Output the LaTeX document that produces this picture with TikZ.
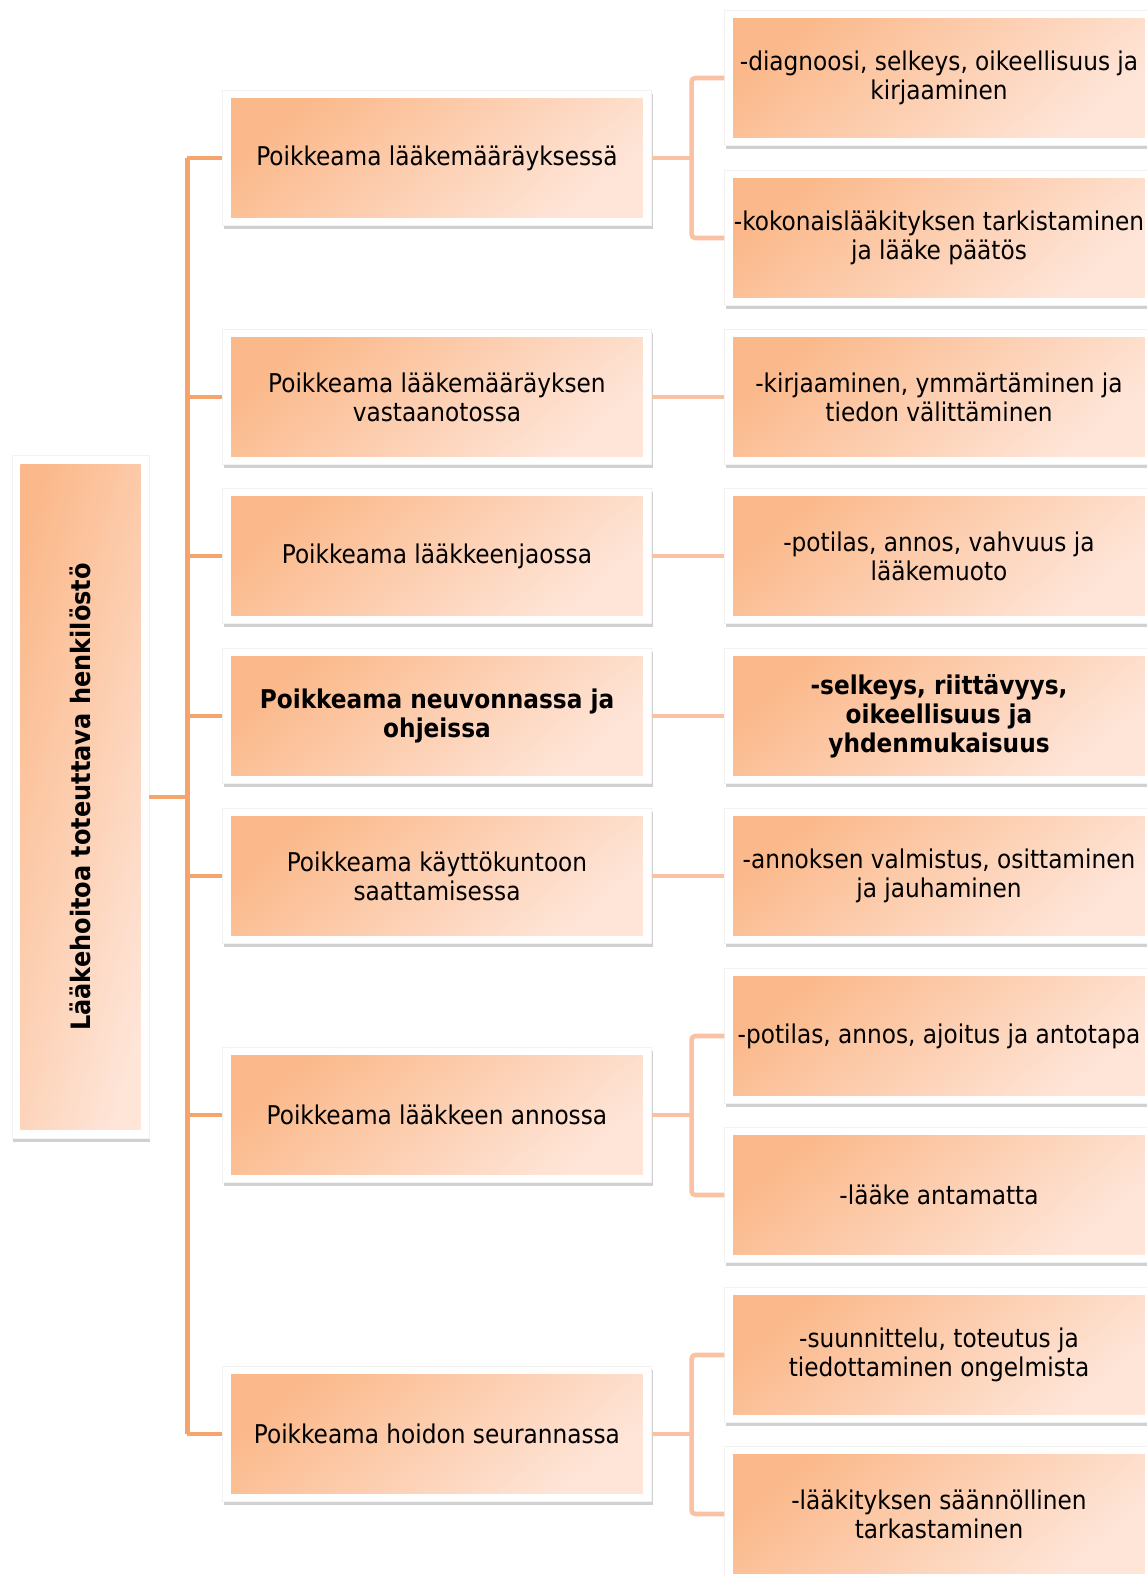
\documentclass[tikz,border=0pt]{standalone}
\usepackage{fontspec}
\setmainfont{DejaVu Sans Condensed}
\usepackage{graphicx}
\usepackage{tikz}
\usetikzlibrary{positioning, fit, backgrounds, shadows}
\definecolor{persikka}{HTML}{FBB98B}
\definecolor{persikkavaalea}{HTML}{FEE5D8}
\definecolor{runko}{HTML}{F5A46C}
\definecolor{haara}{HTML}{F9C2A3}

\begin{document}
\begin{tikzpicture}[
    x=0.02cm, y=-0.02cm,
    every node/.style={font=\fontsize{14.7}{16.5}\selectfont},
    laatikko/.style={shade, top color=persikka, bottom color=persikkavaalea,
        shading angle=40, minimum width=8.24cm, minimum height=2.37cm,
        align=center, inner sep=0pt},
    kehys/.style={fill=white, draw=gray!10, inner sep=0.16cm,
        drop shadow={shadow xshift=0.8pt, shadow yshift=-2pt,
            opacity=0.18, fill=black}},
    runkoviiva/.style={draw=runko, line width=2.6pt},
    haaraviiva/.style={draw=haara, line width=2.6pt, rounded corners=2pt}
]
\useasboundingbox (0,0) rectangle (1146,1575);

% juuri
\node[laatikko, shading angle=75, minimum width=2.41cm, minimum height=13.32cm]
    (juuri) at (80.5,797)
    {\rotatebox{90}{\fontsize{15.2}{17}\selectfont\bfseries Lääkehoitoa toteuttava henkilöstö}};

% poikkeamat
\node[laatikko] (v1) at (437,158) {Poikkeama lääkemääräyksessä};
\node[laatikko] (v2) at (437,397) {Poikkeama lääkemääräyksen\\vastaanotossa};
\node[laatikko] (v3) at (437,556) {Poikkeama lääkkeenjaossa};
\node[laatikko] (v4) at (437,716) {\bfseries Poikkeama neuvonnassa ja\\\bfseries ohjeissa};
\node[laatikko] (v5) at (437,876) {Poikkeama käyttökuntoon\\saattamisessa};
\node[laatikko] (v6) at (437,1115) {Poikkeama lääkkeen annossa};
\node[laatikko] (v7) at (437,1434) {Poikkeama hoidon seurannassa};

% osatekijät
\node[laatikko] (o1) at (939,78) {-diagnoosi, selkeys, oikeellisuus ja\\kirjaaminen};
\node[laatikko] (o2) at (939,238) {-kokonaislääkityksen tarkistaminen\\ja lääke päätös};
\node[laatikko] (o3) at (939,397) {-kirjaaminen, ymmärtäminen ja\\tiedon välittäminen};
\node[laatikko] (o4) at (939,556) {-potilas, annos, vahvuus ja\\lääkemuoto};
\node[laatikko] (o5) at (939,716) {\bfseries -selkeys, riittävyys,\\\bfseries oikeellisuus ja\\\bfseries yhdenmukaisuus};
\node[laatikko] (o6) at (939,876) {-annoksen valmistus, osittaminen\\ja jauhaminen};
\node[laatikko] (o7) at (939,1036) {-potilas, annos, ajoitus ja antotapa};
\node[laatikko] (o8) at (939,1195) {-lääke antamatta};
\node[laatikko] (o9) at (939,1355) {-suunnittelu, toteutus ja\\tiedottaminen ongelmista};
\node[laatikko] (o10) at (939,1514) {-lääkityksen säännöllinen\\tarkastaminen};

\begin{scope}[on background layer]
\foreach \n in {juuri,v1,v2,v3,v4,v5,v6,v7,o1,o2,o3,o4,o5,o6,o7,o8,o9,o10}
    \node[kehys, fit=(\n)] (k-\n) {};
\end{scope}

% runko
\draw[runkoviiva] (k-juuri.east) -- ++(38,0) coordinate (r);
\draw[runkoviiva] (r |- k-v1.west) -- (r |- k-v7.west);
\foreach \n in {1,...,7}
    \draw[runkoviiva] (r |- k-v\n.west) -- (k-v\n.west);

% haarat
\draw[haaraviiva] (k-v1.east) -- ++(40,0) coordinate (h1);
\draw[haaraviiva] (k-o1.west) -| (h1) |- (k-o2.west);
\draw[haaraviiva] (k-v2.east) -- (k-o3.west);
\draw[haaraviiva] (k-v3.east) -- (k-o4.west);
\draw[haaraviiva] (k-v4.east) -- (k-o5.west);
\draw[haaraviiva] (k-v5.east) -- (k-o6.west);
\draw[haaraviiva] (k-v6.east) -- ++(40,0) coordinate (h6);
\draw[haaraviiva] (k-o7.west) -| (h6) |- (k-o8.west);
\draw[haaraviiva] (k-v7.east) -- ++(40,0) coordinate (h7);
\draw[haaraviiva] (k-o9.west) -| (h7) |- (k-o10.west);
\end{tikzpicture}
\end{document}
